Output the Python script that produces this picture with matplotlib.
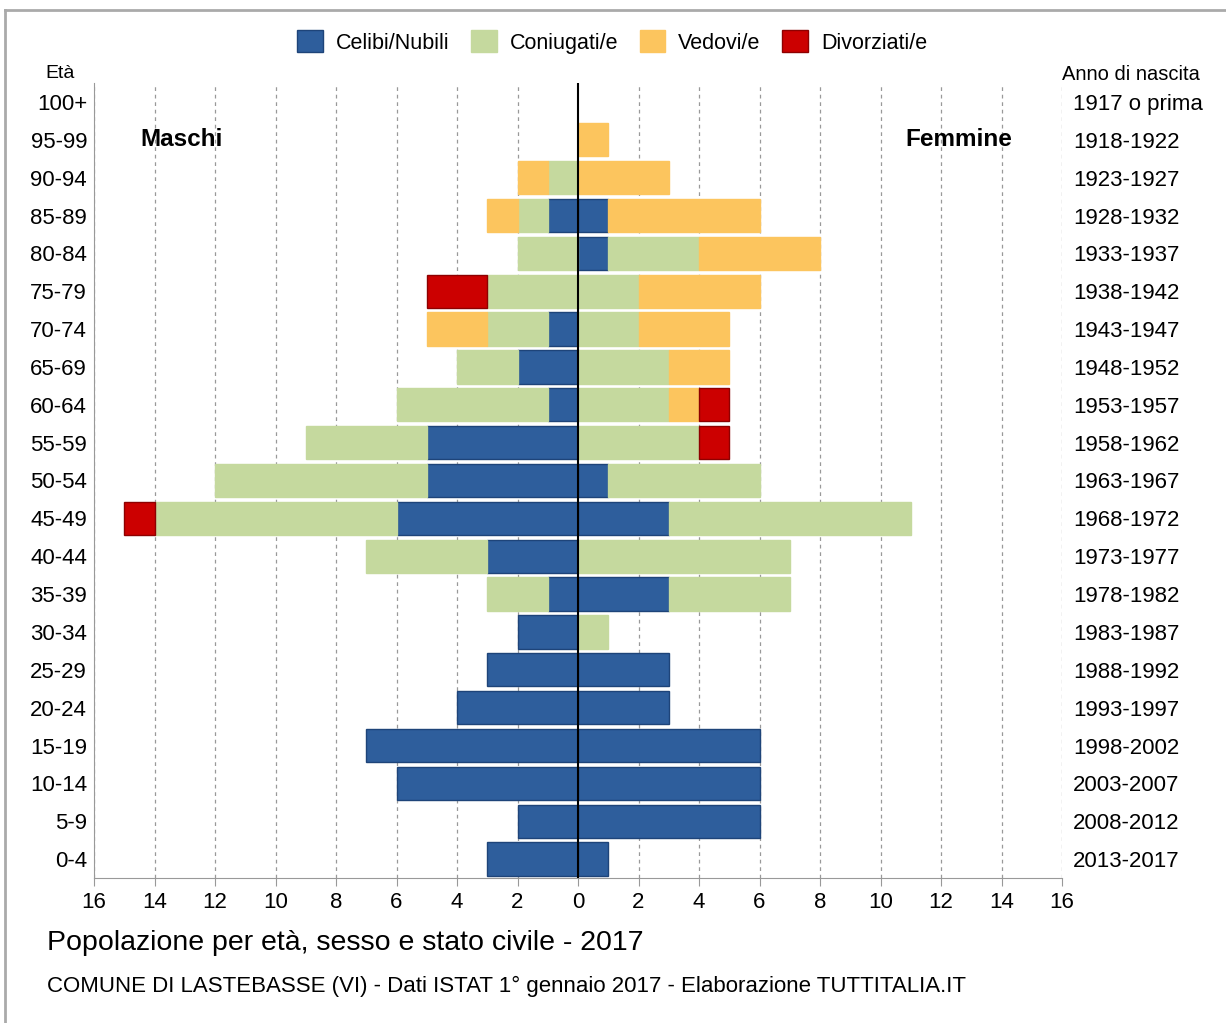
import numpy as np
import matplotlib.pyplot as plt
from matplotlib.lines import Line2D
from matplotlib.patches import Patch

plt.rcParams['font.family'] = ['Liberation Sans', 'DejaVu Sans']

eta = ['0-4', '5-9', '10-14', '15-19', '20-24', '25-29', '30-34', '35-39',
       '40-44', '45-49', '50-54', '55-59', '60-64', '65-69', '70-74', '75-79',
       '80-84', '85-89', '90-94', '95-99', '100+']
anni = ['2013-2017', '2008-2012', '2003-2007', '1998-2002', '1993-1997',
        '1988-1992', '1983-1987', '1978-1982', '1973-1977', '1968-1972',
        '1963-1967', '1958-1962', '1953-1957', '1948-1952', '1943-1947',
        '1938-1942', '1933-1937', '1928-1932', '1923-1927', '1918-1922',
        '1917 o prima']

# maschi (0-4 ... 100+)
m_celibi = [3, 2, 6, 7, 4, 3, 2, 1, 3, 6, 5, 5, 1, 2, 1, 0, 0, 1, 0, 0, 0]
m_coniugati = [0, 0, 0, 0, 0, 0, 0, 2, 4, 8, 7, 4, 5, 2, 2, 3, 2, 1, 1, 0, 0]
m_vedovi = [0, 0, 0, 0, 0, 0, 0, 0, 0, 0, 0, 0, 0, 0, 2, 0, 0, 1, 1, 0, 0]
m_divorziati = [0, 0, 0, 0, 0, 0, 0, 0, 0, 1, 0, 0, 0, 0, 0, 2, 0, 0, 0, 0, 0]

# femmine
f_nubili = [1, 6, 6, 6, 3, 3, 0, 3, 0, 3, 1, 0, 0, 0, 0, 0, 1, 1, 0, 0, 0]
f_coniugate = [0, 0, 0, 0, 0, 0, 1, 4, 7, 8, 5, 4, 3, 3, 2, 2, 3, 0, 0, 0, 0]
f_vedove = [0, 0, 0, 0, 0, 0, 0, 0, 0, 0, 0, 0, 1, 2, 3, 4, 4, 5, 3, 1, 0]
f_divorziate = [0, 0, 0, 0, 0, 0, 0, 0, 0, 0, 0, 1, 1, 0, 0, 0, 0, 0, 0, 0, 0]

stati = ['Celibi/Nubili', 'Coniugati/e', 'Vedovi/e', 'Divorziati/e']
colori = ['#2E5E9C', '#C5D99E', '#FCC55E', '#CC0000']
bordi = ['#1E4479', '#C5D99E', '#FCC55E', '#8E0000']

fig = plt.figure(figsize=(12.26, 10.23), dpi=100)
ax = fig.add_axes([94 / 1226, 1 - 878 / 1023, 968 / 1226, 795 / 1023])

y = np.arange(len(eta))
maschi = [m_celibi, m_coniugati, m_vedovi, m_divorziati]
femmine = [f_nubili, f_coniugate, f_vedove, f_divorziate]

left_m = np.zeros(len(eta))
left_f = np.zeros(len(eta))
for i in range(4):
    vm = np.array(maschi[i], dtype=float)
    vf = np.array(femmine[i], dtype=float)
    km = vm > 0
    kf = vf > 0
    ax.barh(y[km], -vm[km], left=-left_m[km], height=0.88, color=colori[i],
            edgecolor=bordi[i], linewidth=1, zorder=3)
    ax.barh(y[kf], vf[kf], left=left_f[kf], height=0.88, color=colori[i],
            edgecolor=bordi[i], linewidth=1, zorder=3)
    left_m += vm
    left_f += vf

ax.set_xlim(-16, 16)
ax.set_ylim(-0.5, len(eta) - 0.5)
ticks = np.arange(-16, 17, 2)
ax.set_xticks(ticks)
ax.set_xticklabels([str(abs(t)) for t in ticks], fontsize=16)
ax.set_yticks(y)
ax.set_yticklabels(eta, fontsize=16)
ax.tick_params(axis='y', length=0, pad=5)
ax.tick_params(axis='x', length=6, color='#999999', pad=4)

for t in ticks:
    if t != 0:
        ax.axvline(t, color='#999999', linestyle=(0, (3, 3)), linewidth=0.9, zorder=1)
ax.axvline(0, color='black', linewidth=1.5, zorder=4)

for s in ['top', 'right']:
    ax.spines[s].set_visible(False)
ax.spines['left'].set_color('#999999')
ax.spines['bottom'].set_color('#999999')

ax2 = ax.twinx()
ax2.set_ylim(ax.get_ylim())
ax2.set_yticks(y)
ax2.set_yticklabels(anni, fontsize=16)
ax2.tick_params(axis='y', length=0, pad=8)
for s in ['top', 'right', 'left', 'bottom']:
    ax2.spines[s].set_visible(False)

ax.text(-13.1, 19, 'Maschi', fontsize=17.5, fontweight='bold', ha='center', va='center')
ax.text(12.6, 19, 'Femmine', fontsize=17.5, fontweight='bold', ha='center', va='center')

fig.text(60 / 1226, 1 - 74 / 1023, 'Età', fontsize=14, ha='center', va='center')
fig.text(1062 / 1226, 1 - 74 / 1023, 'Anno di nascita', fontsize=14.5, ha='left', va='center')

handles = [Patch(facecolor=colori[i], edgecolor=bordi[i]) for i in range(4)]
fig.legend(handles, stati, loc='center', bbox_to_anchor=(612 / 1226, 1 - 42 / 1023),
           ncol=4, frameon=False, fontsize=15.5, handlelength=1.2, handleheight=1.2,
           columnspacing=1.0, handletextpad=0.6)

fig.text(47 / 1226, 1 - 943 / 1023, 'Popolazione per età, sesso e stato civile - 2017',
         fontsize=20.5, ha='left', va='center')
fig.text(47 / 1226, 1 - 986 / 1023,
         'COMUNE DI LASTEBASSE (VI) - Dati ISTAT 1° gennaio 2017 - Elaborazione TUTTITALIA.IT',
         fontsize=16, ha='left', va='center')

fig.add_artist(Line2D([5 / 1226, 1], [1 - 10 / 1023, 1 - 10 / 1023],
                      transform=fig.transFigure, color='#AAAAAA', linewidth=2))
fig.add_artist(Line2D([5 / 1226, 5 / 1226], [0, 1 - 10 / 1023],
                      transform=fig.transFigure, color='#AAAAAA', linewidth=2))

fig.savefig('out.png', dpi=100)
